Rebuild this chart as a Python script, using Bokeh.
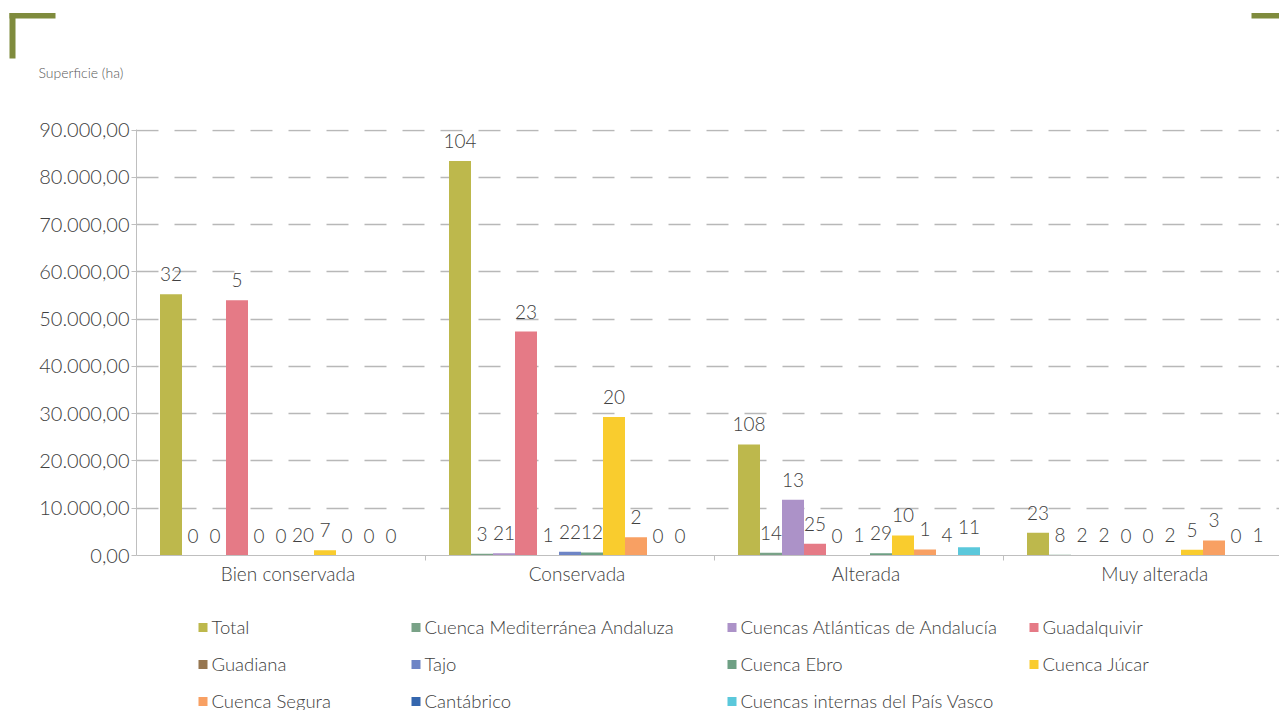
from bokeh.plotting import figure
from bokeh.layouts import column
from bokeh.models import (Range1d, FixedTicker, ColumnDataSource, CustomJSTickFormatter)
from bokeh.embed import file_html
from bokeh.resources import INLINE
from bokeh.core.properties import value

# ---------------- data ----------------
categories = ["Bien conservada", "Conservada", "Alterada", "Muy alterada"]

series = ["Total", "Cuenca Mediterránea Andaluza", "Cuencas Atlánticas de Andalucía",
          "Guadalquivir", "Guadiana", "Tajo", "Cuenca Ebro", "Cuenca Júcar",
          "Cuenca Segura", "Cantábrico", "Cuencas internas del País Vasco"]

colors = ["#BDB84C", "#79A287", "#AC92C8", "#E57A86", "#967650", "#6E85C6",
          "#6EA084", "#F9CC2E", "#F8A063", "#3466AE", "#5BC8DB"]

# superficie (ha) per category
total        = [55300, 83500, 23500, 4800]
mediterranea = [0, 350, 570, 150]
atlanticas   = [0, 500, 11800, 20]
guadalquivir = [54000, 47400, 2480, 20]
guadiana     = [0, 10, 0, 0]
tajo         = [0, 780, 5, 0]
ebro         = [40, 640, 490, 20]
jucar        = [1100, 29300, 4240, 1200]
segura       = [0, 3880, 1270, 3180]
cantabrico   = [0, 0, 80, 0]
pais_vasco   = [0, 0, 1760, 10]

# number of wetlands (bar labels)
n_total        = [32, 104, 108, 23]
n_mediterranea = [0, 3, 14, 8]
n_atlanticas   = [0, 21, 13, 2]
n_guadalquivir = [5, 23, 25, 2]
n_guadiana     = [0, 1, 0, 0]
n_tajo         = [0, 22, 1, 0]
n_ebro         = [20, 12, 29, 2]
n_jucar        = [7, 20, 10, 5]
n_segura       = [0, 2, 1, 3]
n_cantabrico   = [0, 0, 4, 0]
n_pais_vasco   = [0, 0, 11, 1]

y_ticks = [0, 10000, 20000, 30000, 40000, 50000, 60000, 70000, 80000, 90000]
y_tick_labels = ["0,00", "10.000,00", "20.000,00", "30.000,00", "40.000,00",
                 "50.000,00", "60.000,00", "70.000,00", "80.000,00", "90.000,00"]

values = [total, mediterranea, atlanticas, guadalquivir, guadiana, tajo, ebro,
          jucar, segura, cantabrico, pais_vasco]
counts = [n_total, n_mediterranea, n_atlanticas, n_guadalquivir, n_guadiana, n_tajo,
          n_ebro, n_jucar, n_segura, n_cantabrico, n_pais_vasco]

# ---------------- styling / layout ----------------
FONT = "Lato Light, Lato"
TXT = "#404040"
W = 1279
GROUP_PX = 289.0
bar_w = 22 / GROUP_PX
pad = 23.5 / GROUP_PX


def blank(height, y0, y1):
    f = figure(width=W, height=height, output_backend="svg", toolbar_location=None,
               x_range=Range1d(0, W), y_range=Range1d(y1, y0),
               x_axis_location=None, y_axis_location=None,
               min_border=0, min_border_left=0, min_border_right=0,
               min_border_top=0, min_border_bottom=0, frame_align=False)
    f.grid.visible = False
    f.outline_line_color = None
    return f


# ---- top strip: decoration + axis title ----
top = blank(100, 0, 100)
OL = "#7F8B3D"
top.quad(left=[9, 9, 1251], right=[55, 15, 1279], top=[12.5, 12.5, 12.5],
         bottom=[18, 58, 18], fill_color=OL, line_color=None)
top.text(x=[38], y=[72], text=["Superficie (ha)"], text_baseline="middle",
         text_align="left", text_font=value(FONT), text_font_size="14px",
         text_color="#595959")

# ---- main chart ----
p = figure(width=W, height=495, output_backend="svg", toolbar_location=None,
           x_range=Range1d(0, 1143 / GROUP_PX), y_range=Range1d(0, 90150),
           min_border_left=136, min_border_right=0, min_border_top=29,
           min_border_bottom=40, frame_align=False)
p.outline_line_color = None
p.xgrid.visible = False
p.ygrid.grid_line_color = "#B8B8B8"
p.ygrid.grid_line_dash = "22 16"
p.ygrid.grid_line_width = 1.3

for i, name in enumerate(series):
    xs = [g + pad + bar_w * (i + 0.5) for g in range(len(categories))]
    src = ColumnDataSource(dict(x=xs, top=values[i], label=[str(c) for c in counts[i]]))
    p.vbar(x="x", top="top", bottom=0, width=bar_w, source=src,
           fill_color=colors[i], line_color=None)
    p.text(x="x", y="top", text="label", source=src, text_align="center",
           text_baseline="middle", y_offset=-20, text_font=value(FONT),
           text_font_size="19px", text_color=TXT)

ya = p.yaxis[0]
ya.ticker = FixedTicker(ticks=y_ticks)
ya.major_label_overrides = {t: l for t, l in zip(y_ticks, y_tick_labels)}
ya.axis_line_color = "#BFBFBF"
ya.major_tick_line_color = "#BFBFBF"
ya.minor_tick_line_color = None
ya.major_tick_out = 5
ya.major_tick_in = 0
ya.major_label_standoff = 2
ya.major_label_text_font = FONT
ya.major_label_text_font_size = "20px"
ya.major_label_text_color = TXT

xa = p.xaxis[0]
label_shift = 7 / GROUP_PX
xa.ticker = FixedTicker(ticks=[g + 0.5 + label_shift for g in range(len(categories))],
                        minor_ticks=[1, 2, 3])
xa.formatter = CustomJSTickFormatter(args=dict(names=categories),
                                     code="return names[Math.floor(tick)];")
xa.axis_line_color = "#BFBFBF"
xa.major_tick_line_color = None
xa.major_tick_out = 0
xa.major_tick_in = 0
xa.minor_tick_line_color = "#BFBFBF"
xa.minor_tick_out = 5
xa.minor_tick_in = 0
xa.major_label_standoff = 1
xa.major_label_text_font = FONT
xa.major_label_text_font_size = "19px"
xa.major_label_text_color = TXT

# ---- legend strip (4 columns x 3 rows) ----
leg = blank(115, 595, 710)
col_x = [198, 411, 727, 1029]
row_y = [627, 664, 701]
mx = [col_x[k % 4] for k in range(len(series))]
my = [row_y[k // 4] for k in range(len(series))]
leg.rect(x=[v + 4.5 for v in mx], y=my, width=9, height=9,
         fill_color=colors, line_color=None)
leg.text(x=[v + 13 for v in mx], y=[v - 1 for v in my], text=series,
         text_baseline="middle", text_align="left", text_font=value(FONT),
         text_font_size="18.5px", text_color=TXT)

layout = column(top, p, leg, spacing=0)
open("out.html", "w").write(file_html(layout, INLINE))
